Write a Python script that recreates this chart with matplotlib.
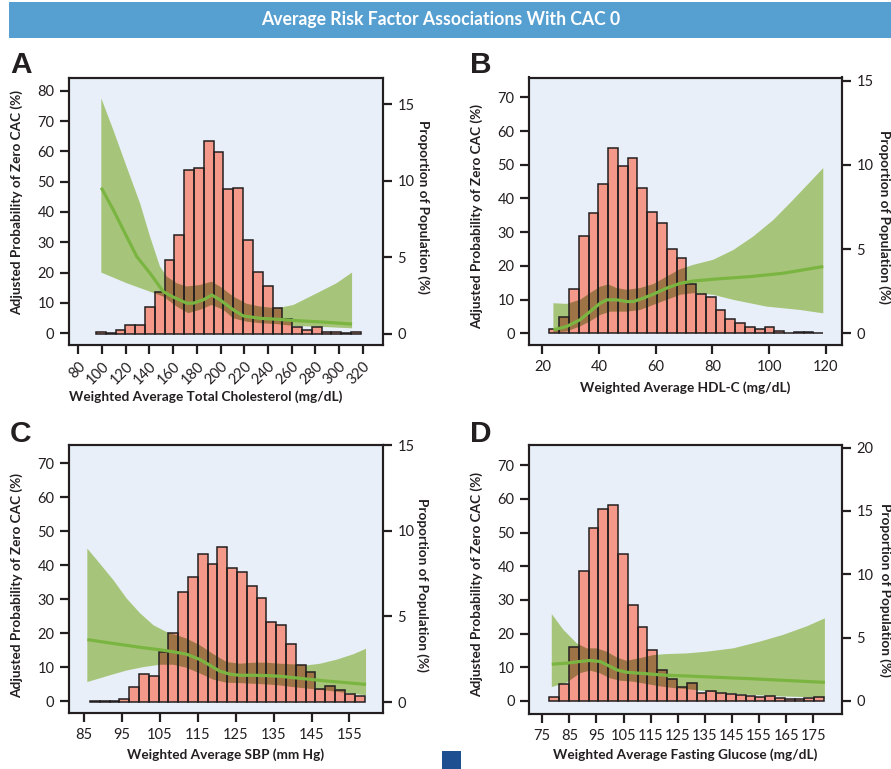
import matplotlib
matplotlib.use("Agg")
import numpy as np
import matplotlib.pyplot as plt
from matplotlib import font_manager
from matplotlib.patches import Rectangle

# ─── Fonts ────────────────────────────────────────────────────────────────────
_names = {f.name for f in font_manager.fontManager.ttflist}
NARROW = "Liberation Sans Narrow" if "Liberation Sans Narrow" in _names else "Lato"
LBL = 9.7 if NARROW != "Lato" else 9.8
TITLE_SIZE = 13 if NARROW != "Lato" else 12.7

plt.rcParams.update({
    "font.family": ["Lato", "DejaVu Sans"],
    "font.size": 10,
})

# ─── Colours ──────────────────────────────────────────────────────────────────
BG = "#e8eff8"
BAR = "#f4998a"
EDGE = "#231f20"
BAND = "#a6c57a"
OVER = "#9e7446"
LINE = "#7bb541"
HEAD = "#569fd1"

# ─── Data: A  total cholesterol ───────────────────────────────────────────────
A_bins = (95.0, 318.3)
A_hist = [0.11, 0.04, 0.22, 0.59, 0.59, 1.75, 2.75, 4.78, 6.44, 10.73, 10.84, 12.59,
          11.91, 9.47, 9.53, 6.09, 4.01, 3.12, 1.64, 0.96, 0.46, 0.24, 0.46, 0.07,
          0.07, 0.02, 0.09]
A_fit_x = [99.4, 109.5, 120.8, 129.3, 140.5, 151.7, 160.2, 171.5, 177.0, 185.5, 192.6,
           199.6, 210.8, 219.2, 233.3, 247.4, 261.4, 289.6, 311.0]
A_fit_y = [48.0, 40.7, 31.9, 25.3, 19.8, 13.7, 11.9, 9.9, 9.9, 11.0, 12.6, 11.0, 7.7,
           5.7, 4.9, 4.6, 4.2, 3.6, 3.0]
A_up_x = [99.4, 109.6, 120.8, 132.1, 140.5, 148.9, 154.6, 163.0, 171.4, 182.7, 192.5,
          199.6, 210.8, 222.1, 233.3, 247.4, 261.5, 284.0, 298.0, 311.0]
A_up_y = [77.5, 67.0, 54.9, 42.9, 31.9, 22.0, 18.7, 16.5, 15.4, 15.9, 17.0, 15.4, 12.1,
          9.7, 8.8, 8.2, 9.3, 13.7, 16.5, 20.0]
A_lo_x = [99.4, 120.8, 140.5, 151.7, 163.0, 172.8, 182.7, 192.5, 202.4, 210.8, 222.1,
          233.3, 247.4, 261.5, 289.6, 311.0]
A_lo_y = [20.0, 16.5, 13.7, 12.1, 8.8, 6.6, 7.7, 9.3, 7.7, 4.9, 3.8, 3.3, 3.0, 2.4,
          2.0, 1.6]

# ─── Data: B  HDL-C ───────────────────────────────────────────────────────────
B_bins = (22.5, 119.1)
B_hist = [0.24, 0.95, 2.63, 5.78, 7.13, 8.87, 10.99, 9.94, 10.40, 8.65, 7.19, 6.57,
          5.01, 4.48, 2.95, 2.32, 2.18, 1.39, 0.83, 0.59, 0.40, 0.26, 0.40, 0.14,
          0.04, 0.10, 0.10, 0.04]
B_fit_x = [23.9, 28.6, 33.3, 36.8, 40.4, 42.7, 46.2, 49.8, 52.1, 55.6, 59.2, 63.9,
           68.6, 73.3, 81.5, 93.3, 105.0, 119.1]
B_fit_y = [1.0, 2.0, 4.0, 6.4, 8.9, 9.9, 9.9, 9.4, 9.4, 10.4, 11.6, 13.4, 14.8, 15.5,
           16.1, 16.8, 17.8, 19.8]
B_up_x = [23.9, 28.6, 33.3, 36.8, 40.4, 43.3, 46.2, 49.8, 54.5, 59.2, 63.9, 68.6,
          73.3, 80.3, 87.4, 94.4, 101.5, 108.5, 119.1]
B_up_y = [8.9, 8.7, 9.9, 11.9, 13.8, 14.5, 13.4, 12.9, 13.4, 14.6, 16.8, 19.0, 20.3,
          21.8, 24.7, 28.7, 33.6, 39.6, 49.0]
B_lo_x = [23.9, 28.6, 33.3, 36.8, 40.4, 43.9, 49.8, 54.5, 59.2, 63.9, 68.6, 73.3,
          80.3, 87.4, 99.1, 110.9, 119.1]
B_lo_y = [0.2, 0.5, 2.0, 3.5, 5.4, 6.4, 6.4, 6.9, 8.4, 9.9, 11.4, 11.9, 11.4, 9.9,
          7.9, 6.9, 5.9]

# ─── Data: C  SBP ─────────────────────────────────────────────────────────────
C_bins = (86.5, 159.0)
C_hist = [0.08, 0.08, 0.08, 0.18, 0.88, 1.61, 1.51, 2.92, 4.03, 6.44, 7.32, 8.64,
          8.05, 9.07, 7.83, 7.62, 6.80, 6.05, 4.70, 4.48, 3.41, 2.17, 1.74, 0.78,
          0.92, 0.71, 0.45, 0.35]
C_fit_x = [85.8, 91.8, 96.2, 100.6, 105.0, 108.5, 112.0, 115.6, 118.2, 120.8, 123.5,
           126.1, 129.6, 133.2, 136.7, 140.2, 144.6, 149.0, 153.4, 159.4]
C_fit_y = [18.1, 17.1, 16.4, 15.7, 15.1, 14.5, 13.8, 12.2, 10.5, 8.8, 7.9, 7.6, 7.6,
           7.5, 7.3, 6.9, 6.4, 5.9, 5.5, 4.9]
C_up_x = [85.8, 89.1, 92.7, 96.2, 99.7, 103.3, 106.8, 109.4, 112.0, 115.6, 119.1,
          122.6, 126.1, 129.6, 133.2, 136.7, 140.2, 143.7, 147.3, 151.7, 156.1, 159.4]
C_up_y = [44.9, 40.5, 35.6, 30.2, 25.9, 22.3, 20.3, 19.4, 18.4, 16.4, 13.8, 11.5,
          11.0, 11.3, 11.3, 11.0, 10.8, 10.5, 11.0, 12.2, 13.8, 15.4]
C_lo_x = [85.8, 91.8, 96.2, 100.6, 105.0, 108.5, 112.0, 115.6, 119.1, 122.6, 126.1,
          129.6, 133.2, 136.7, 140.2, 144.6, 149.0, 153.4, 159.4]
C_lo_y = [5.6, 7.6, 9.0, 10.0, 10.7, 10.7, 9.8, 8.1, 6.3, 5.4, 5.3, 5.1, 4.9, 4.6,
          4.1, 3.6, 3.1, 2.5, 1.7]

# ─── Data: D  fasting glucose ─────────────────────────────────────────────────
D_bins = (77.6, 179.0)
D_hist = [0.34, 1.34, 4.24, 10.24, 13.64, 15.14, 15.48, 11.58, 7.56, 5.87, 4.00, 2.42,
          1.71, 1.13, 1.40, 0.61, 0.76, 0.61, 0.53, 0.47, 0.37, 0.32, 0.37, 0.21,
          0.13, 0.16, 0.21, 0.29]
D_fit_x = [78.5, 84.0, 88.9, 92.6, 96.3, 98.8, 102.5, 106.1, 111.1, 116.0, 120.9,
           128.3, 139.4, 151.6, 163.9, 179.3]
D_fit_y = [10.9, 11.2, 11.7, 12.0, 11.7, 10.7, 9.2, 8.5, 8.2, 7.9, 7.6, 7.4, 7.0,
           6.6, 6.1, 5.5]
D_up_x = [78.5, 82.8, 87.7, 91.4, 95.1, 98.8, 102.5, 106.1, 111.1, 116.0, 120.9,
          128.3, 135.6, 145.5, 155.3, 163.9, 172.5, 179.3]
D_up_y = [25.8, 21.1, 17.1, 15.6, 15.6, 14.6, 12.9, 11.9, 12.7, 13.6, 13.9, 14.1,
          14.6, 15.6, 17.6, 19.6, 22.1, 24.5]
D_lo_x = [78.5, 84.0, 88.9, 92.6, 96.3, 100.0, 103.7, 108.6, 113.5, 118.5, 123.4,
          130.7, 139.4, 151.6, 163.9, 179.3]
D_lo_y = [4.1, 5.4, 8.2, 9.0, 8.2, 6.7, 6.0, 5.7, 5.0, 4.3, 3.8, 3.3, 2.5, 1.8, 1.3,
          1.0]

YLAB = "Adjusted Probability of Zero CAC (%)"
RLAB = "Proportion of Population (%)"

W, H = 891, 769
fig = plt.figure(figsize=(W / 100, H / 100), dpi=100)
fig.patch.set_facecolor("white")


def px_rect(x0, y0, x1, y1):
    # pixel box (top-left origin) -> figure fraction rect
    return [x0 / W, 1 - y1 / H, (x1 - x0) / W, (y1 - y0) / H]


def panel(rect, letter, letter_xy, bins, hist, fit, up, lo, xlim, ylim_l, ylim_r,
          xticks, yticks_l, yticks_r, xlabel, xlab_xy, ylab_y, rlab_xy, rot=0):
    ax = fig.add_axes(rect)
    ax2 = ax.twinx()
    ax.set_facecolor(BG)

    edges = np.linspace(bins[0], bins[1], len(hist) + 1)
    lefts, widths = edges[:-1], np.diff(edges)

    # confidence band (left scale), bars (right scale), overlap shaded darker
    poly_x = np.r_[up[0], lo[0][::-1]]
    poly_y = np.r_[up[1], lo[1][::-1]]
    ax2.fill(poly_x, poly_y, color=BAND, lw=0, zorder=1, transform=ax.transData)
    bars = ax2.bar(lefts, hist, width=widths, align="edge", color=BAR, lw=0, zorder=2)
    for b in bars:
        ov = ax2.fill(poly_x, poly_y, color=OVER, lw=0, zorder=3,
                      transform=ax.transData)[0]
        ov.set_clip_path(b)
    ax2.bar(lefts, hist, width=widths, align="edge", fill=False, edgecolor=EDGE,
            lw=1.1, zorder=4)
    ax2.plot(fit[0], fit[1], color=LINE, lw=2.3, zorder=5, transform=ax.transData,
             solid_capstyle="butt")

    ax.set_xlim(*xlim)
    ax.set_ylim(*ylim_l)
    ax2.set_ylim(*ylim_r)
    ax.set_xticks(xticks)
    ax.set_yticks(yticks_l)
    ax2.set_yticks(yticks_r)

    for a in (ax, ax2):
        for s in a.spines.values():
            s.set_linewidth(1.5)
            s.set_color(EDGE)
        a.tick_params(direction="out", length=6.5, width=1.6, color=EDGE,
                      labelcolor=EDGE, labelsize=10.5, pad=4)
    if rot:
        plt.setp(ax.get_xticklabels(), rotation=rot, ha="right",
                 rotation_mode="anchor")

    lab = dict(fontfamily=NARROW, fontweight="bold", fontsize=LBL, color=EDGE,
               va="center")
    ax.set_xlabel(xlabel, **lab)
    ax.xaxis.set_label_coords(*xlab_xy)
    ax.set_ylabel(YLAB, **lab)
    ax.yaxis.set_label_coords(-0.167, ylab_y)
    ax2.set_ylabel(RLAB, rotation=-90, **lab)
    ax2.yaxis.set_label_coords(*rlab_xy)

    fig.text(letter_xy[0] / W, 1 - letter_xy[1] / H, letter, fontfamily="Liberation Sans",
             fontweight="bold", fontsize=21.5, color=EDGE, va="baseline")


panel(px_rect(69, 78, 383, 345), "A", (10, 73), A_bins, A_hist,
      (A_fit_x, A_fit_y), (A_up_x, A_up_y), (A_lo_x, A_lo_y),
      (72.15, 337.1), (-3.9, 84.2), (-0.75, 16.72),
      range(80, 321, 20), range(0, 81, 10), [0, 5, 10, 15],
      "Weighted Average Total Cholesterol (mg/dL)", (0.435, -0.195), 0.534,
      (1.13, 0.518), rot=45)

panel(px_rect(529.3, 77.5, 841.7, 345), "B", (470, 73), B_bins, B_hist,
      (B_fit_x, B_fit_y), (B_up_x, B_up_y), (B_lo_x, B_lo_y),
      (15.4, 125.6), (-3.5, 75.9), (-0.69, 15.19),
      range(20, 121, 20), range(0, 71, 10), [0, 5, 10, 15],
      "Weighted Average HDL-C (mg/dL)", (0.498, -0.16), 0.48, (1.137, 0.48))

panel(px_rect(69, 445, 382.7, 713.3), "C", (10, 442), C_bins, C_hist,
      (C_fit_x, C_fit_y), (C_up_x, C_up_y), (C_lo_x, C_lo_y),
      (80.96, 163.8), (-3.6, 75.4), (-0.66, 15.02),
      range(85, 156, 10), range(0, 71, 10), [0, 5, 10, 15],
      "Weighted Average SBP (mm Hg)", (0.499, -0.155), 0.478, (1.127, 0.478))

panel(px_rect(529.3, 445, 841.7, 714), "D", (470, 442), D_bins, D_hist,
      (D_fit_x, D_fit_y), (D_up_x, D_up_y), (D_lo_x, D_lo_y),
      (70.2, 185.5), (-3.9, 76.0), (-1.03, 20.2),
      range(75, 176, 10), range(0, 71, 10), [0, 5, 10, 15, 20],
      "Weighted Average Fasting Glucose (mg/dL)", (0.498, -0.152), 0.48, (1.14, 0.461))

# header bar and title
fig.add_artist(Rectangle((9 / W, 1 - 38 / H), (W - 9) / W, 36 / H,
                         transform=fig.transFigure, color=HEAD, lw=0, zorder=0))
fig.text(441 / W, 1 - 20 / H, "Average Risk Factor Associations With CAC 0",
         fontfamily=NARROW, fontweight="bold", fontsize=TITLE_SIZE, color="white",
         ha="center", va="center")

# small square marker at the bottom
fig.add_artist(Rectangle((442 / W, 0), 19 / W, 18 / H, transform=fig.transFigure,
                         color="#1d4f91", lw=0))

fig.savefig("out.png", dpi=100, facecolor="white")
